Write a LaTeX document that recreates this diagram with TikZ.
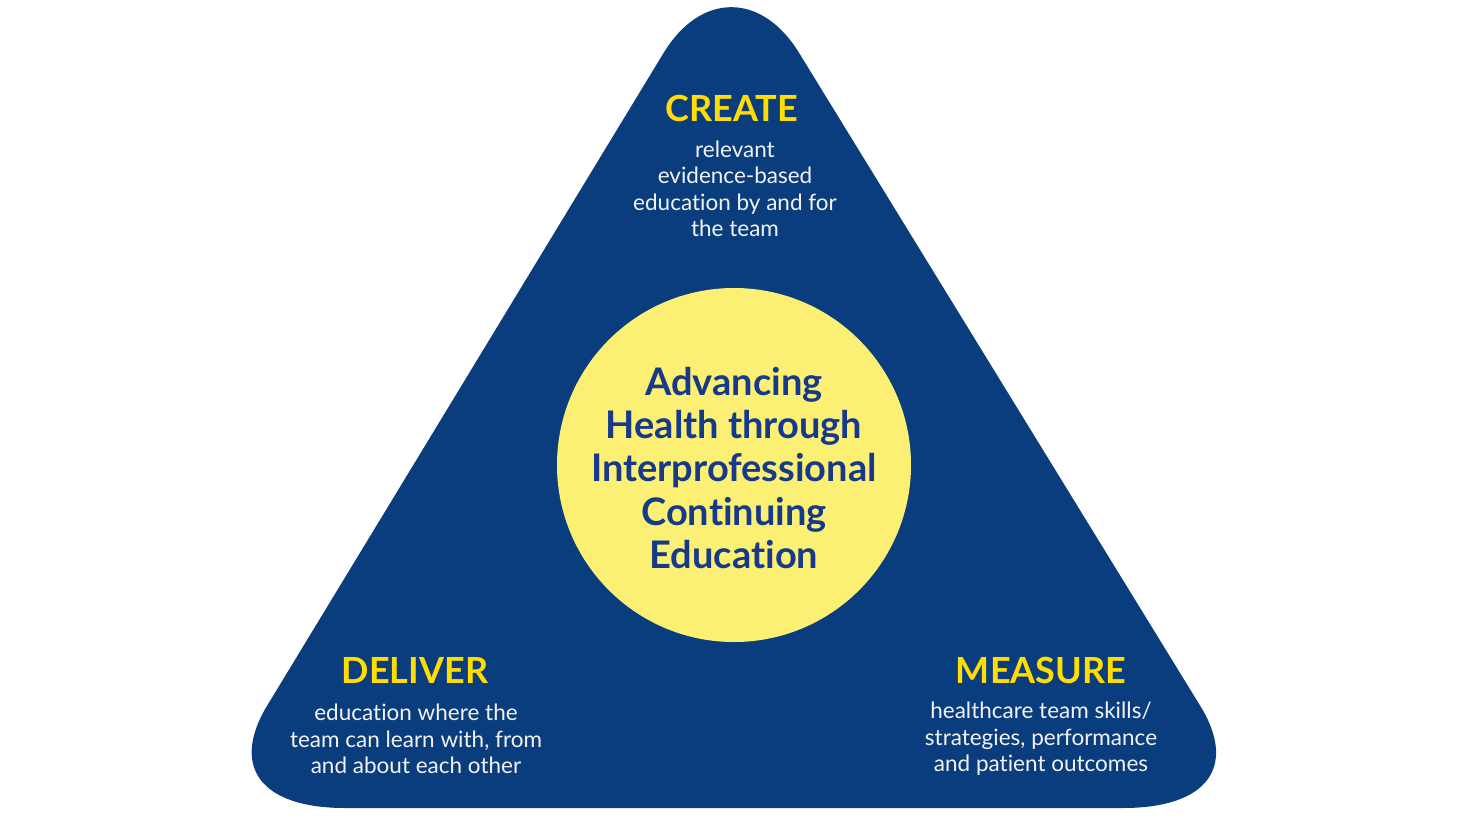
\documentclass[tikz,border=0pt]{standalone}
\usepackage{fontspec}
\setmainfont{Lato}[Ligatures=NoCommon]
\definecolor{navy}{HTML}{0A3D7D}
\definecolor{circfill}{HTML}{FBF073}
\definecolor{headyel}{HTML}{FFDD00}
\definecolor{bodytxt}{HTML}{F2F2F2}
\definecolor{circtxt}{HTML}{17398A}
\tikzset{
  heading/.style={text=headyel, font=\fontsize{36}{40}\selectfont\bfseries, inner sep=0pt},
  bodytext/.style={text=bodytxt, font=\fontsize{22.5}{26.5}\selectfont, align=center, inner sep=0pt},
  hub/.style={circle, fill=circfill, minimum size=354pt, inner sep=0pt},
  hubtext/.style={text=circtxt, font=\fontsize{38}{43.3}\selectfont\bfseries, align=center, inner sep=0pt},
}
\begin{document}
\begin{tikzpicture}[x=1pt,y=-1pt]
\useasboundingbox (0,0) rectangle (1460,820);
\fill[navy] (345,808) -- (1123,808)
  .. controls (1207,808) and (1237.9,767.1) .. (1200.2,705.8)
  -- (799,52.8)
  .. controls (761.6,-8.2) and (700.6,-8.0) .. (663.5,53.1)
  -- (267.3,705.4)
  .. controls (229.9,767.0) and (261,808) .. (345,808) -- cycle;
\node[hub] (hub) at (734,465) {};
\node[hubtext] (hubt) at (734,468) {Advancing\\Health through\\Interprofessional\\Continuing\\Education};
\node[heading] (create) at (732,108) {CREATE};
\node[bodytext] (createb) at (735,189) {relevant\\evidence-based\\education by and for\\the team};
\node[heading] (deliver) at (415,670) {DELIVER};
\node[bodytext] (deliverb) at (416,739) {education where the\\team can learn with, from\\and about each other};
\node[heading] (measure) at (1041,670) {MEASURE};
\node[bodytext] (measureb) at (1041,739) {healthcare team skills/\\strategies, performance\\and patient outcomes};
\end{tikzpicture}
\end{document}
